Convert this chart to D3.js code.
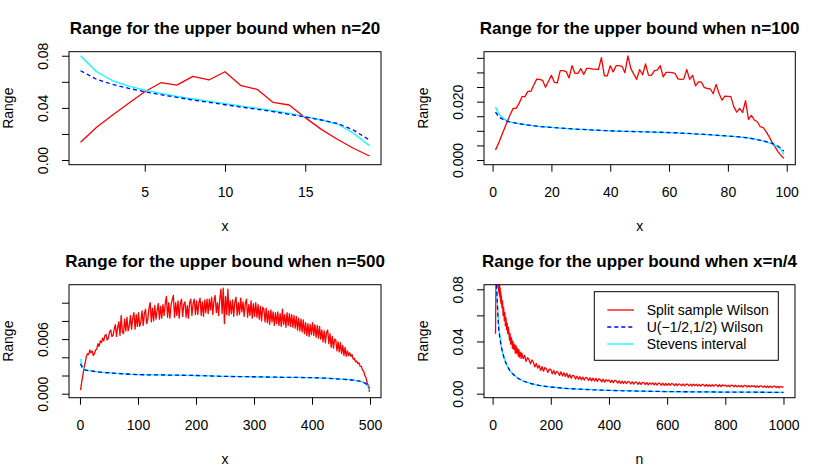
<!DOCTYPE html>
<html><head><meta charset="utf-8">
<script src="https://cdn.jsdelivr.net/npm/d3@7"></script>
<style>
body{margin:0;background:#fff}
svg text{font-family:"Liberation Sans",Arial,Helvetica,sans-serif;fill:#000}
</style>
</head><body>
<svg id="c" width="830" height="467"></svg>
<script>
// ---------- Panel 1 : n = 20 ----------
const p1X = [1,2,3,4,5,6,7,8,9,10,11,12,13,14,15,16,17,18,19];
const p1Red  = [.0136,.0251,.0345,.0435,.0524,.0593,.0575,.0642,.0614,.0677,.0570,.0542,.0442,.0422,.0325,.0235,.0159,.0090,.0031];
const p1Blue = [.0685,.0619,.0580,.0550,.0524,.0501,.0481,.0460,.0443,.0424,.0406,.0389,.0371,.0350,.0330,.0307,.0281,.0230,.0153];
const p1Cyan = [.0800,.0677,.0608,.0567,.0537,.0511,.0488,.0468,.0450,.0432,.0414,.0396,.0378,.0358,.0332,.0307,.0276,.0205,.0110];
const p1XTicks = [5,10,15];
const p1YTicks = [0,0.02,0.04,0.06,0.08];
const p1YLabels = ["0.00","","0.04","","0.08"];

// ---------- Panel 2 : n = 100 ----------
const p2RedX = d3.range(1,100);
const p2Red = [
 .0034,.0057,.0082,.0107,.0132,.0156,.0177,.0177,.0194,.0217,
 .0217,.0235,.0235,.0257,.0277,.0276,.0273,.0249,.0270,.0290,
 .0266,.0264,.0306,.0306,.0303,.0281,.0323,.0297,.0297,.0313,
 .0293,.0314,.0314,.0311,.0311,.0310,.0351,.0288,.0288,.0323,
 .0302,.0323,.0323,.0321,.0299,.0357,.0314,.0294,.0276,.0310,
 .0292,.0329,.0291,.0290,.0306,.0308,.0323,.0285,.0300,.0300,
 .0299,.0297,.0278,.0276,.0277,.0310,.0276,.0290,.0254,.0268,
 .0267,.0248,.0245,.0244,.0227,.0259,.0228,.0205,.0219,.0218,
 .0217,.0183,.0164,.0177,.0163,.0203,.0139,.0153,.0137,.0131,
 .0114,.0111,.0097,.0080,.0061,.0046,.0029,.0017,.0006];
const p2SmoothX = [1,2,3,4,5,7,10,15,20,30,40,50,60,70,80,85,90,93,95,97,98,99];
const p2Blue = [.0164,.0150,.0142,.0137,.0133,.0128,.0123,.0116,.0112,.0105,.0100,.0097,.0094,.0089,.0082,.0078,.0070,.0063,.0057,.0048,.0041,.0030];
const p2Cyan = [.0182,.0160,.0148,.0140,.0134,.0128,.0123,.0116,.0112,.0105,.0100,.0097,.0094,.0089,.0082,.0078,.0070,.0062,.0055,.0044,.0035,.0018];
const p2XTicks = [0,20,40,60,80,100];
const p2YTicks = [0,0.005,0.01,0.015,0.02,0.025,0.03,0.035];
const p2YLabels = ["0.000","","","","0.020","","",""];

// ---------- Panel 3 : n = 500 (red read every 2nd x) ----------
const p3RedX = d3.range(1,500,2);
const p3Red = [
 .0004,.0013,.0020,.0029,.0034,.0041,.0044,.0043,.0048,.0045,
 .0047,.0042,.0044,.0048,.0049,.0055,.0052,.0058,.0056,.0061,
 .0058,.0064,.0065,.0059,.0061,.0068,.0070,.0063,.0064,.0071,
 .0076,.0063,.0073,.0079,.0064,.0086,.0068,.0066,.0082,.0069,
 .0084,.0069,.0074,.0086,.0071,.0083,.0089,.0071,.0087,.0074,
 .0089,.0074,.0079,.0091,.0075,.0088,.0093,.0077,.0082,.0094,
 .0100,.0079,.0094,.0080,.0097,.0082,.0091,.0099,.0082,.0096,
 .0083,.0098,.0086,.0099,.0107,.0084,.0100,.0083,.0097,.0103,
 .0108,.0084,.0100,.0086,.0102,.0083,.0099,.0104,.0085,.0098,
 .0101,.0084,.0097,.0083,.0100,.0104,.0086,.0099,.0104,.0087,
 .0102,.0087,.0100,.0105,.0086,.0101,.0085,.0103,.0089,.0104,
 .0088,.0104,.0092,.0106,.0087,.0102,.0108,.0089,.0100,.0086,
 .0104,.0115,.0088,.0116,.0077,.0107,.0087,.0115,.0086,.0102,
 .0088,.0103,.0085,.0101,.0106,.0086,.0100,.0087,.0105,.0090,
 .0101,.0085,.0099,.0104,.0084,.0098,.0086,.0102,.0083,.0099,
 .0085,.0100,.0084,.0098,.0082,.0096,.0080,.0095,.0093,.0079,
 .0094,.0078,.0091,.0076,.0092,.0079,.0090,.0075,.0089,.0077,
 .0090,.0075,.0088,.0074,.0093,.0076,.0087,.0073,.0089,.0075,
 .0088,.0074,.0087,.0073,.0086,.0072,.0085,.0070,.0083,.0069,
 .0082,.0068,.0081,.0066,.0078,.0064,.0077,.0063,.0076,.0065,
 .0078,.0064,.0076,.0062,.0075,.0061,.0074,.0060,.0070,.0057,
 .0069,.0056,.0067,.0070,.0055,.0066,.0051,.0063,.0050,.0060,
 .0059,.0047,.0057,.0046,.0056,.0044,.0053,.0042,.0051,.0041,
 .0047,.0042,.0045,.0041,.0043,.0038,.0039,.0035,.0036,.0033,
 .0034,.0030,.0030,.0026,.0025,.0020,.0018,.0012,.0009,.0002];
const p3SmoothX = [1,3,5,10,20,30,50,100,150,200,250,300,350,400,450,470,480,490,495,498,499];
const p3Blue = [.0033,.0030,.0028,.0026,.0025,.0024,.0023,.0021,.00205,.0020,.0019,.00186,.0018,.00176,.0016,.0015,.0014,.0012,.0010,.0008,.0006];
const p3Cyan = [.0038,.0032,.0029,.0026,.0025,.0024,.0023,.0021,.00205,.0020,.0019,.00186,.0018,.00176,.0016,.0015,.0014,.0012,.0009,.0006,.0004];
const p3XTicks = [0,100,200,300,400,500];
const p3YTicks = [0,0.002,0.004,0.006,0.008,0.010];
const p3YLabels = ["0.000","","","0.006","",""];

// ---------- Panel 4 : x = n/4 ----------
const p4RedN = [10,11,12,13,14,15,16,17,18,19,20,21,22,23,24,25,26,27,28,29,30,32,34,36,38,40,42,44,46,48]
  .concat(d3.range(50,99,2), d3.range(100,1001,5));
const p4Red = [
 .046,.072,.095,.088,.098,.087,.094,.084,.091,.081,.088,.078,.085,.076,.083,.074,.081,.071,.078,.069,
 .075,.066,.071,.060,.066,.056,.062,.052,.058,.049,
 .054,.046,.051,.047,.041,.046,.038,.043,.041,.035,.040,.034,.038,.036,.031,.037,.031,.035,.033,.029,
 .034,.028,.032,.031,.027,
 .0312,.0268,.0294,.0248,.0276,.0262,.0228,.0259,.0241,.0205,
 .0232,.0196,.0218,.0178,.0208,.0172,.0201,.0190,.0163,.0188,
 .0186,.0152,.0178,.0149,.0171,.0162,.0140,.0168,.0136,.0160,
 .0132,.0156,.0124,.0147,.0118,.0141,.0137,.0112,.0134,.0110,
 .0131,.0106,.0127,.0104,.0124,.0121,.0101,.0122,.0098,.0119,
 .0097,.0117,.0094,.0114,.0108,.0090,.0111,.0088,.0107,.0096,
 .0105,.0086,.0103,.0084,.0101,.0098,.0081,.0099,.0079,.0096,
 .0078,.0095,.0077,.0093,.0090,.0075,.0091,.0073,.0089,.0088,
 .0072,.0088,.0070,.0086,.0084,.0069,.0085,.0067,.0083,.0071,
 .0083,.0067,.0082,.0066,.0080,.0079,.0064,.0080,.0063,.0078,
 .0064,.0078,.0063,.0077,.0075,.0062,.0076,.0061,.0075,.0070,
 .0061,.0074,.0060,.0073,.0072,.0060,.0073,.0059,.0072,.0062,
 .0072,.0058,.0071,.0058,.0070,.0069,.0057,.0070,.0056,.0069,
 .0057,.0069,.0056,.0068,.0067,.0055,.0068,.0055,.0067,.0060,
 .0066,.0054,.0065,.0053,.0065,.0064,.0053,.0064,.0052,.0063,
 .0052,.0063,.0051,.0063,.0062,.0050,.0062,.0050,.0061,.0055,
 .0061,.0049,.0060,.0049,.0060,.0059,.0048,.0059,.0047,.0058,
 .0047,.0058,.0046,.0058,.0057,.0046,.0057,.0045,.0056,.0049,
 .0052];
const p4SmoothN = [10,12,14,16,18,20,25,30,35,40,50,60,70,80,100,125,150,200,250,300,400,500,600,700,800,900,1000];
const p4Blue = [.105,.092,.080,.070,.061,.053,.043,.036,.031,.027,.0215,.0175,.015,.013,.0103,.0082,.0068,.0051,.0041,.0034,.0025,.0020,.0016,.0014,.0012,.0011,.0010];
const p4Cyan = [.115,.098,.083,.072,.063,.055,.044,.036,.031,.027,.0215,.0175,.015,.013,.0103,.0082,.0068,.0051,.0041,.0034,.0025,.0020,.0016,.0014,.0012,.0011,.0010];
const p4XTicks = [0,200,400,600,800,1000];
const p4YTicks = [0,0.02,0.04,0.06,0.08];
const p4YLabels = ["0.00","","0.04","","0.08"];

const legendLabels = ["Split sample Wilson","U(\u22121/2,1/2) Wilson","Stevens interval"];
const RED="#ff0000", BLUE="#0000ff", CYAN="#00ffff";

const svg = d3.select("#c");
svg.append("rect").attr("width",830).attr("height",467).attr("fill","#fff");

const zip = (xs, ys) => xs.map((v,i)=>[v, ys[i]]).filter(d=>d[1]!==undefined);

function panel(id, cfg){
  const g = svg.append("g");
  const x = d3.scaleLinear().domain(cfg.xDom).range([cfg.L, cfg.R]);
  const y = d3.scaleLinear().domain(cfg.yDom).range([cfg.B, cfg.T]);
  g.append("clipPath").attr("id","clip"+id).append("rect")
    .attr("x",cfg.L).attr("y",cfg.T).attr("width",cfg.R-cfg.L).attr("height",cfg.B-cfg.T);
  const lines = g.append("g").attr("clip-path",`url(#clip${id})`);
  cfg.series.forEach(s=>{
    const line = d3.line().x(d=>x(d[0])).y(d=>y(d[1])).curve(s.smooth ? d3.curveMonotoneX : d3.curveLinear);
    lines.append("path").attr("d", line(zip(s.x, s.y)))
      .attr("fill","none").attr("stroke",s.color).attr("stroke-width",1.3)
      .attr("stroke-dasharray", s.dash || null).attr("stroke-linejoin","round");
  });
  const xa = g.append("g").attr("transform",`translate(0,${cfg.B})`)
    .call(d3.axisBottom(x).tickValues(cfg.xTicks).tickSize(7).tickFormat(d3.format("d")));
  xa.select(".domain").remove();
  xa.selectAll("text").attr("y",32).attr("dy",null).attr("font-size",14).attr("fill","#000");
  xa.selectAll("line").attr("stroke","#000");
  const ya = g.append("g").attr("transform",`translate(${cfg.L},0)`)
    .call(d3.axisLeft(y).tickValues(cfg.yTicks).tickSize(7).tickFormat((d,i)=>cfg.yLabels[i]));
  ya.select(".domain").remove();
  ya.selectAll("text").attr("x",0).attr("dy",null).attr("text-anchor","middle")
    .attr("transform","translate(-21,0) rotate(-90)").attr("font-size",14).attr("fill","#000");
  ya.selectAll("line").attr("stroke","#000");
  g.append("rect").attr("x",cfg.L).attr("y",cfg.T).attr("width",cfg.R-cfg.L).attr("height",cfg.B-cfg.T)
    .attr("fill","none").attr("stroke","#000").attr("stroke-width",1);
  g.append("text").attr("x",(cfg.L+cfg.R)/2).attr("y",cfg.T-18).attr("text-anchor","middle")
    .attr("font-size",17).attr("font-weight","bold").text(cfg.title);
  g.append("text").attr("x",(cfg.L+cfg.R)/2).attr("y",cfg.B+66.3).attr("text-anchor","middle")
    .attr("font-size",14).text(cfg.xlab);
  g.append("text").attr("transform",`translate(${cfg.L-56.4},${(cfg.T+cfg.B)/2}) rotate(-90)`)
    .attr("text-anchor","middle").attr("font-size",14).text("Range");
  return {g,x,y};
}

panel(1,{L:69,R:381,T:51.7,B:164.7,xDom:[0.28,19.72],yDom:[-0.0036,0.0831],
  xTicks:p1XTicks,yTicks:p1YTicks,yLabels:p1YLabels,
  title:"Range for the upper bound when n=20",xlab:"x",
  series:[{x:p1X,y:p1Red,color:RED},{x:p1X,y:p1Cyan,color:CYAN},{x:p1X,y:p1Blue,color:BLUE,dash:"4,3"}]});

panel(2,{L:484,R:795.3,T:51.7,B:164.7,xDom:[-2.92,102.92],yDom:[-0.0016,0.0371],
  xTicks:p2XTicks,yTicks:p2YTicks,yLabels:p2YLabels,
  title:"Range for the upper bound when n=100",xlab:"x",
  series:[{x:p2RedX,y:p2Red,color:RED},{x:p2SmoothX,y:p2Cyan,color:CYAN,smooth:true},{x:p2SmoothX,y:p2Blue,color:BLUE,dash:"4,3",smooth:true}]});

panel(3,{L:69,R:381,T:284.7,B:397.7,xDom:[-18.92,518.92],yDom:[-0.00044,0.01198],
  xTicks:p3XTicks,yTicks:p3YTicks,yLabels:p3YLabels,
  title:"Range for the upper bound when n=500",xlab:"x",
  series:[{x:p3RedX,y:p3Red,color:RED},{x:p3SmoothX,y:p3Cyan,color:CYAN,smooth:true},{x:p3SmoothX,y:p3Blue,color:BLUE,dash:"4,3",smooth:true}]});

panel(4,{L:484,R:795,T:284.7,B:397.7,xDom:[-29.6,1039.6],yDom:[-0.0031,0.0835],
  xTicks:p4XTicks,yTicks:p4YTicks,yLabels:p4YLabels,
  title:"Range for the upper bound when x=n/4",xlab:"n",
  series:[{x:p4RedN,y:p4Red,color:RED},{x:p4SmoothN,y:p4Cyan,color:CYAN,smooth:true},{x:p4SmoothN,y:p4Blue,color:BLUE,dash:"4,3",smooth:true}]});

const lg = svg.append("g");
lg.append("rect").attr("x",594.3).attr("y",291.7).attr("width",184).attr("height",68.6)
  .attr("fill","#fff").attr("stroke","#000").attr("stroke-width",1);
const legCols = [RED,BLUE,CYAN], legDash=[null,"4,3",null];
legendLabels.forEach((t,i)=>{
  const yy = 310 + i*17;
  lg.append("line").attr("x1",607.3).attr("x2",634).attr("y1",yy).attr("y2",yy)
    .attr("stroke",legCols[i]).attr("stroke-width",1.3).attr("stroke-dasharray",legDash[i]);
  lg.append("text").attr("x",646.7).attr("y",yy+5).attr("font-size",14).text(t);
});
</script>
</body></html>
